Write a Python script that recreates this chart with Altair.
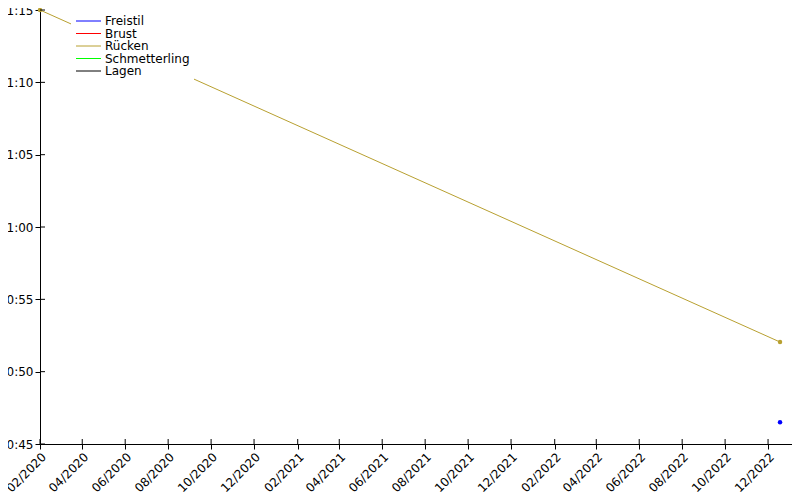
import altair as alt
import pandas as pd

# series data
styles = ["Freistil", "Brust", "Rücken", "Schmetterling", "Lagen"]
colors = ["#0000ff", "#ff0000", "#b8a030", "#00ff00", "#000000"]

series_style = ["Rücken", "Rücken", "Freistil"]
series_date = ["2020-02-01", "2022-12-18", "2022-12-18"]
series_seconds = [75.0, 52.05, 46.5]

x_ticks = ["2020-02-01", "2020-04-01", "2020-06-01", "2020-08-01", "2020-10-01",
           "2020-12-01", "2021-02-01", "2021-04-01", "2021-06-01", "2021-08-01",
           "2021-10-01", "2021-12-01", "2022-02-01", "2022-04-01", "2022-06-01",
           "2022-08-01", "2022-10-01", "2022-12-01"]
y_ticks = [45, 50, 55, 60, 65, 70, 75]
x_domain = ["2020-02-01", "2023-01-04"]
y_domain = [45, 75.14]

df = pd.DataFrame({"style": series_style, "date": series_date, "sec": series_seconds})
xt = pd.DataFrame({"date": x_ticks})
yt = pd.DataFrame({"sec": y_ticks})

W, H = 752, 436
FONT = "DejaVu Sans"

def ms(s):
    return int(pd.Timestamp(s, tz="UTC").timestamp() * 1000)

xscale = alt.Scale(type="utc", domain=[ms(d) for d in x_domain], nice=False)
yscale = alt.Scale(domain=y_domain, nice=False, zero=False)
cscale = alt.Scale(domain=styles, range=colors)

xaxis = alt.Axis(values=[ms(d) for d in x_ticks],
                 labelExpr="utcFormat(datum.value, '%m/%Y')",
                 labelAngle=-45, labelFont=FONT, labelFontSize=12, labelColor="#000",
                 tickColor="#000", domainColor="#000", tickSize=5, grid=False,
                 title=None, labelPadding=2, labelFlush=False, labelOverlap=False)
yaxis = alt.Axis(values=y_ticks,
                 labelExpr="floor(datum.value/60) + ':' + (datum.value % 60 < 10 ? '0' : '') + (datum.value % 60)",
                 labelFont=FONT, labelFontSize=12, labelColor="#000",
                 tickColor="#000", domainColor="#000", tickSize=5, grid=False,
                 title=None, labelPadding=2, labelFlush=False)

X = alt.X("date:T", scale=xscale, axis=xaxis)
Y = alt.Y("sec:Q", scale=yscale, axis=yaxis)

base = alt.Chart(df)
line = base.mark_line(strokeWidth=1, clip=True).encode(
    x=X, y=Y,
    color=alt.Color("style:N", scale=cscale, sort=styles,
                    legend=alt.Legend(title=None, orient="none", legendX=31, legendY=3,
                                      symbolType="M-1,0H4", symbolSize=100, symbolStrokeWidth=1,
                                      symbolOpacity=1,
                                      labelFont=FONT, labelFontSize=12, labelColor="#000",
                                      fillColor="white", padding=4, rowPadding=0.5,
                                      labelOffset=18, symbolOffset=0)),
)
pts = base.mark_circle(size=20, opacity=1).encode(
    x=X, y=Y,
    color=alt.Color("style:N", scale=cscale, legend=None),
)
ytick_in = alt.Chart(yt).mark_rule(color="#000", strokeWidth=1).encode(
    y=Y, x=alt.value(0), x2=alt.value(5))
xtick_in = alt.Chart(xt).mark_rule(color="#000", strokeWidth=1).encode(
    x=X, y=alt.value(H), y2=alt.value(H - 5))

chart = alt.layer(line, pts, ytick_in, xtick_in).properties(
    width=W, height=H,
    background="white",
    autosize=alt.AutoSizeParams(type="none"),
    padding={"left": 32, "top": 0, "right": 0, "bottom": 48},
).configure_view(strokeWidth=0, stroke="transparent")

chart.save("out.html", embed_options={"renderer": "svg", "actions": False})
